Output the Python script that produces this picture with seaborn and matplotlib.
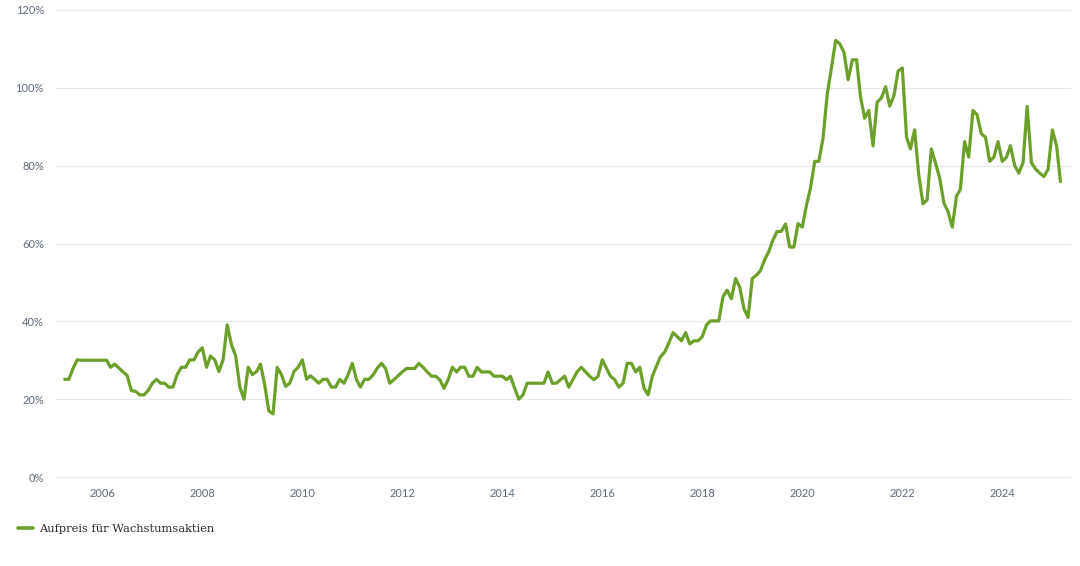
import matplotlib
matplotlib.use("Agg")
import matplotlib.pyplot as plt
import seaborn as sns
import pandas as pd
from matplotlib.lines import Line2D

# Monthly data, April 2005 - March 2025 (premium in %)
start_month = "2005-04-01"
premium = [
    25.1, 25.1, 27.9, 30.1, 30.0, 30.0, 30.0, 30.0, 30.0, 30.0, 30.0, 28.2,
    29.0, 28.0, 27.0, 26.1, 22.2, 22.0, 21.1, 21.1, 22.2, 24.1, 25.1, 24.1,
    24.1, 23.1, 23.1, 26.3, 28.2, 28.2, 30.1, 30.1, 32.1, 33.2, 28.2, 31.1,
    30.1, 27.1, 30.1, 39.1, 34.0, 31.1, 23.1, 20.0, 28.2, 26.3, 27.1, 29.0,
    23.7, 17.0, 16.2, 28.2, 26.3, 23.3, 24.1, 27.1, 28.2, 30.1, 25.1, 26.0,
    25.1, 24.1, 25.1, 25.1, 23.1, 23.1, 25.1, 24.1, 26.3, 29.2, 25.0, 23.1,
    25.1, 25.1, 26.2, 27.9, 29.2, 27.9, 24.1, 25.0, 26.0, 27.0, 27.9, 27.9,
    27.9, 29.2, 28.2, 27.0, 25.9, 25.9, 25.0, 22.8, 25.0, 28.2, 27.0, 28.2,
    28.2, 25.9, 25.9, 28.2, 27.0, 27.0, 27.0, 25.9, 25.9, 25.9, 25.0, 25.9,
    22.8, 20.0, 21.1, 24.1, 24.1, 24.1, 24.1, 24.1, 27.0, 24.1, 24.1, 25.0,
    25.9, 23.1, 25.1, 27.0, 28.2, 27.0, 25.9, 25.0, 25.9, 30.1, 27.9, 25.9,
    25.0, 23.1, 24.1, 29.2, 29.2, 27.0, 28.2, 22.8, 21.1, 25.9, 28.6, 30.9,
    32.1, 34.4, 37.1, 36.1, 35.0, 37.1, 34.2, 35.0, 35.0, 36.1, 39.1, 40.1,
    40.1, 40.1, 46.3, 48.0, 45.8, 51.0, 48.8, 43.3, 41.0, 51.0, 51.9, 53.0,
    55.8, 57.9, 60.9, 63.1, 63.1, 65.0, 59.1, 59.1, 65.1, 64.2, 69.9, 74.2,
    81.1, 81.1, 87.1, 98.2, 105.1, 112.2, 111.3, 109.1, 102.1, 107.2, 107.2, 97.8,
    92.2, 94.2, 85.1, 96.3, 97.4, 100.3, 95.3, 98.0, 104.3, 105.1, 87.3, 84.3,
    89.2, 77.6, 70.2, 71.2, 84.3, 80.6, 76.8, 70.4, 68.2, 64.2, 72.2, 73.9,
    86.2, 82.2, 94.2, 93.1, 88.2, 87.3, 81.1, 82.2, 86.2, 81.1, 82.2, 85.1,
    80.0, 78.1, 80.8, 95.2, 80.8, 79.1, 78.1, 77.2, 79.1, 89.2, 85.1, 75.9,
]
series_label = "Aufpreis für Wachstumsaktien"
y_ticks = [0, 20, 40, 60, 80, 100, 120]
x_tick_years = [2006, 2008, 2010, 2012, 2014, 2016, 2018, 2020, 2022, 2024]

dates = pd.date_range(start_month, periods=len(premium), freq="MS")
df = pd.DataFrame({"date": dates, "value": premium, "series": series_label})

sns.set_theme(style="white")
plt.rcParams["font.family"] = ["Lato", "DejaVu Sans"]

line_color = "#6d9f2b"
tick_color = "#5f6b7a"

fig = plt.figure(figsize=(10.8, 5.66), dpi=100)
ax = fig.add_axes([55 / 1080, 1 - 477 / 566, (1070 - 55) / 1080, (477 - 10) / 566])

sns.lineplot(data=df, x="date", y="value", hue="series", palette=[line_color],
             linewidth=2.3, ax=ax, legend=False)

ax.set_ylim(0, 120)
ax.set_xlim(pd.Timestamp("2005-01-20"), pd.Timestamp("2025-05-10"))
ax.set_yticks(y_ticks)
ax.set_yticklabels([f"{v}%" for v in y_ticks])
ax.set_xticks([pd.Timestamp(f"{y}-01-01") for y in x_tick_years])
ax.set_xticklabels([str(y) for y in x_tick_years])
ax.tick_params(axis="both", length=0, labelsize=8, colors=tick_color)
ax.tick_params(axis="y", pad=8)
ax.tick_params(axis="x", pad=8)
ax.grid(axis="y", color="#e6e8ea", linewidth=0.8)
ax.grid(axis="x", visible=False)
for gl in ax.get_ygridlines():
    gl.set_clip_on(False)
for s in ax.spines.values():
    s.set_visible(False)
ax.set_xlabel("")
ax.set_ylabel("")

handle = Line2D([], [], color=line_color, linewidth=2.6)
fig.legend([handle], [series_label], loc="center left",
           bbox_to_anchor=(8 / 1080, 1 - 529 / 566), frameon=False,
           handlelength=1.3, handletextpad=0.55,
           prop={"family": "DejaVu Serif", "size": 8.2},
           labelcolor="#2a2a2a")

fig.savefig("out.png", dpi=100)
